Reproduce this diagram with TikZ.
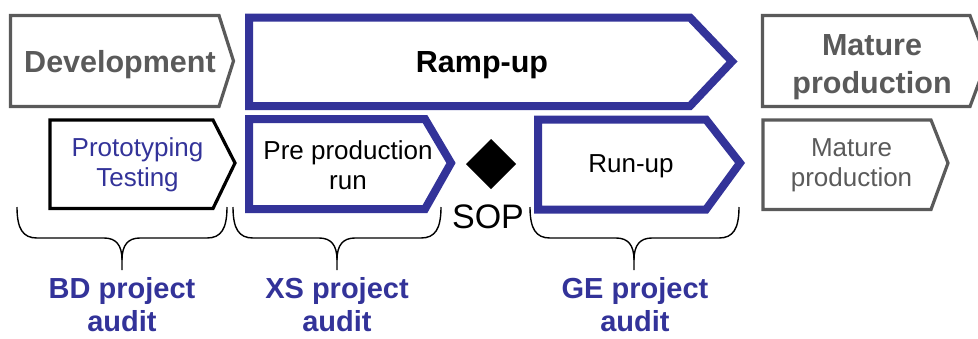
\documentclass[tikz,border=0pt]{standalone}
\usepackage{fontspec}
\setmainfont{Liberation Sans}
\definecolor{pblue}{HTML}{333399}
\definecolor{pgray}{HTML}{5A5A5A}
\newcommand{\auditbrace}[3]{%
  \draw[bracestyle] (#1,207) .. controls (#1,229) and (#1+6,238) .. (#1+20,238)
    -- (#3-18,238) .. controls (#3-6,238) and (#3,245) .. (#3,260) -- (#3,270);
  \draw[bracestyle] (#2,207) .. controls (#2,229) and (#2-6,238) .. (#2-20,238)
    -- (#3+18,238) .. controls (#3+6,238) and (#3,245) .. (#3,260);
}
\begin{document}
\begin{tikzpicture}[x=1pt,y=-1pt,
  graybox/.style={draw=pgray, line width=3.2pt, line join=miter},
  blackbox/.style={draw=black, line width=3.2pt, line join=miter},
  bluebox/.style={draw=pblue, line width=8pt, line join=miter},
  bracestyle/.style={draw=black, line width=1.4pt},
  bigbold/.style={font=\fontsize{30.5}{38}\selectfont\bfseries, inner sep=0pt, align=center},
  midtext/.style={font=\fontsize{26}{30}\selectfont, inner sep=0pt, align=center},
  audittext/.style={font=\fontsize{29}{33}\selectfont\bfseries, text=pblue, inner sep=0pt, align=center}]
\useasboundingbox (0,0) rectangle (978,338);

% top row
\draw[graybox] (10.5,15.5) -- (219,15.5) -- (233.5,61) -- (219,106.5) -- (10.5,106.5) -- cycle;
\draw[bluebox] (249,17.5) -- (690,17.5) -- (732,61.5) -- (690,106) -- (249,106) -- cycle;
\draw[graybox] (762.5,15.5) -- (970,15.5) -- (987,61) -- (970,106.5) -- (762.5,106.5) -- cycle;

\node[bigbold, text=pgray, anchor=base] (dev) at (120,72.5) {Development};
\node[bigbold, text=black, anchor=base] (ramp) at (482,72.5) {Ramp-up};
\node[bigbold, text=pgray] (mat) at (872,67) {Mature\\production};

% second row
\draw[blackbox] (50,120) -- (213,120) -- (235,163) -- (213,208.5) -- (50,208.5) -- cycle;
\draw[bluebox] (249,119) -- (425,119) -- (451,163) -- (425,209) -- (249,209) -- cycle;
\draw[bluebox] (538,119.5) -- (706,119.5) -- (740,163) -- (706,209.5) -- (538,209.5) -- cycle;
\draw[graybox] (763,120) -- (931,120) -- (948,163) -- (931,209.5) -- (763,209.5) -- cycle;

\node[midtext, text=pblue] (proto) at (137.5,165) {Prototyping\\Testing};
\node[midtext, text=black] (pre) at (348,165.5) {Pre production\\run};
\node[midtext, text=black, anchor=base] (run) at (631,172) {Run-up};
\node[midtext, text=pgray] (matsmall) at (851.5,165) {Mature\\production};

% SOP milestone
\fill[black] (491,139) -- (516,164) -- (491,189) -- (466,164) -- cycle;
\node[font=\fontsize{34}{40}\selectfont, inner sep=0pt, anchor=base] (sop) at (488,228) {SOP};

% braces
\auditbrace{17}{227}{122}
\auditbrace{233}{441}{337}
\auditbrace{530}{739}{634}

\node[audittext] (bd) at (122,305) {BD project\\audit};
\node[audittext] (xs) at (337,305) {XS project\\audit};
\node[audittext] (ge) at (635,305) {GE project\\audit};
\end{tikzpicture}
\end{document}
